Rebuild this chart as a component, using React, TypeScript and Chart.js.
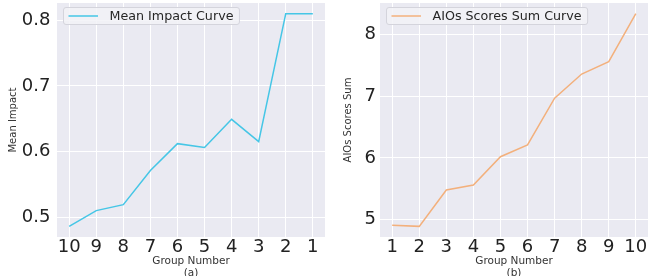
import React, { useEffect, useRef } from 'react';
import { Chart, registerables } from 'chart.js';

Chart.register(...registerables);

// ---- data ----
const groupsA = ['10', '9', '8', '7', '6', '5', '4', '3', '2', '1'];
const meanImpact = [0.486, 0.51, 0.519, 0.571, 0.612, 0.606, 0.649, 0.615, 0.81, 0.81];
const yTicksA = [0.5, 0.6, 0.7, 0.8];
const yTickLabelsA = ['0.5', '0.6', '0.7', '0.8'];

const groupsB = ['1', '2', '3', '4', '5', '6', '7', '8', '9', '10'];
const aiosSum = [4.91, 4.89, 5.48, 5.56, 6.02, 6.21, 6.97, 7.36, 7.56, 8.34];
const yTicksB = [5, 6, 7, 8];
const yTickLabelsB = ['5', '6', '7', '8'];

const FONT = "'DejaVu Sans', 'Liberation Sans', sans-serif";

const plotBg = {
  id: 'plotBg',
  beforeDraw(chart: any) {
    const { ctx, chartArea: a } = chart;
    ctx.save();
    ctx.fillStyle = '#EAEAF2';
    ctx.fillRect(a.left, a.top, a.right - a.left, a.bottom - a.top);
    ctx.restore();
  },
};

const boxLegend = {
  id: 'boxLegend',
  afterDatasetsDraw(chart: any) {
    const ds = chart.data.datasets[0];
    const { ctx, chartArea: a } = chart;
    ctx.save();
    ctx.font = `12.7px ${FONT}`;
    const tw = ctx.measureText(ds.label).width;
    const x = a.left + 6.5;
    const y = a.top + 4.5;
    const h = 17;
    const w = 5 + 29.5 + 11.5 + tw + 6;
    const r = 2.5;
    ctx.beginPath();
    ctx.moveTo(x + r, y);
    ctx.lineTo(x + w - r, y);
    ctx.quadraticCurveTo(x + w, y, x + w, y + r);
    ctx.lineTo(x + w, y + h - r);
    ctx.quadraticCurveTo(x + w, y + h, x + w - r, y + h);
    ctx.lineTo(x + r, y + h);
    ctx.quadraticCurveTo(x, y + h, x, y + h - r);
    ctx.lineTo(x, y + r);
    ctx.quadraticCurveTo(x, y, x + r, y);
    ctx.closePath();
    ctx.fillStyle = 'rgba(242,242,247,0.85)';
    ctx.fill();
    ctx.strokeStyle = '#D4D4DC';
    ctx.lineWidth = 1;
    ctx.stroke();
    ctx.beginPath();
    ctx.moveTo(x + 5, y + h / 2);
    ctx.lineTo(x + 34.5, y + h / 2);
    ctx.strokeStyle = ds.borderColor;
    ctx.lineWidth = 1.5;
    ctx.stroke();
    ctx.fillStyle = '#262626';
    ctx.textBaseline = 'middle';
    ctx.textAlign = 'left';
    ctx.fillText(ds.label, x + 46, y + h / 2 + 0.5);
    ctx.restore();
  },
};

function makeConfig(
  labels: string[],
  values: number[],
  yTicks: number[],
  yTickLabels: string[],
  color: string,
  label: string,
  caption: string,
  yTitle: string,
  yWidth: number,
  padRight: number,
  yTickPad: number,
  yTitlePad: number
): any {
  const lo = Math.min(...values);
  const hi = Math.max(...values);
  const m = (hi - lo) * 0.05;
  return {
    type: 'line',
    data: {
      datasets: [
        {
          label,
          data: values.map((v, i) => ({ x: i, y: v })),
          borderColor: color,
          backgroundColor: color,
          borderWidth: 1.5,
          pointRadius: 0,
          tension: 0,
          fill: false,
        },
      ],
    },
    options: {
      animation: false,
      responsive: true,
      maintainAspectRatio: false,
      layout: { padding: { left: 0, right: padRight, top: 3, bottom: 0 } },
      plugins: { legend: { display: false }, tooltip: { enabled: false } },
      scales: {
        x: {
          type: 'linear',
          min: -0.45,
          max: labels.length - 1 + 0.45,
          afterBuildTicks: (s: any) => {
            s.ticks = labels.map((_, i) => ({ value: i }));
          },
          afterFit: (s: any) => {
            s.height = 39;
            s.paddingLeft = 0;
            s.paddingRight = 0;
          },
          ticks: {
            callback: (v: any) => labels[Math.round(Number(v))],
            font: { size: 18, family: FONT },
            color: '#222',
            padding: 0,
            autoSkip: false,
            maxRotation: 0,
          },
          grid: { color: '#FFFFFF', lineWidth: 1, drawTicks: false },
          border: { display: false },
          title: {
            display: true,
            text: ['Group Number', caption],
            font: { size: 10.5, family: FONT },
            color: '#333',
            padding: { top: 0, bottom: -4 },
          },
        },
        y: {
          type: 'linear',
          min: lo - m,
          max: hi + m,
          afterBuildTicks: (s: any) => {
            s.ticks = yTicks.map((v) => ({ value: v }));
          },
          afterFit: (s: any) => {
            s.width = yWidth;
            s.paddingTop = 0;
            s.paddingBottom = 0;
          },
          ticks: {
            callback: (_v: any, i: number) => yTickLabels[i],
            font: { size: 18, family: FONT },
            color: '#222',
            padding: yTickPad,
          },
          grid: { color: '#FFFFFF', lineWidth: 1, drawTicks: false },
          border: { display: false },
          title: {
            display: true,
            text: yTitle,
            font: { size: 10, family: FONT },
            color: '#333',
            padding: { top: yTitlePad, bottom: 0 },
          },
        },
      },
    },
    plugins: [plotBg, boxLegend],
  };
}

function Panel({ config, left }: { config: any; left: number }) {
  const ref = useRef<HTMLCanvasElement | null>(null);
  useEffect(() => {
    if (!ref.current) return;
    const chart = new Chart(ref.current, config);
    return () => chart.destroy();
  }, [config]);
  return (
    <div style={{ position: 'absolute', left, top: 0, width: 332, height: 276 }}>
      <canvas ref={ref} />
    </div>
  );
}

const configA = makeConfig(
  groupsA, meanImpact, yTicksA, yTickLabelsA, '#45C6E6', 'Mean Impact Curve', '(a)', 'Mean Impact', 57, 7, 6.5, 7
);
const configB = makeConfig(
  groupsB, aiosSum, yTicksB, yTickLabelsB, '#F3B07C', 'AIOs Scores Sum Curve', '(b)', 'AIOs Scores Sum', 48, 16, 4, 10
);

export default function App() {
  return (
    <div
      style={{
        position: 'fixed',
        left: 0,
        top: 0,
        width: 664,
        height: 276,
        background: '#FFFFFF',
        overflow: 'hidden',
      }}
    >
      <Panel config={configA} left={0} />
      <Panel config={configB} left={332} />
    </div>
  );
}
